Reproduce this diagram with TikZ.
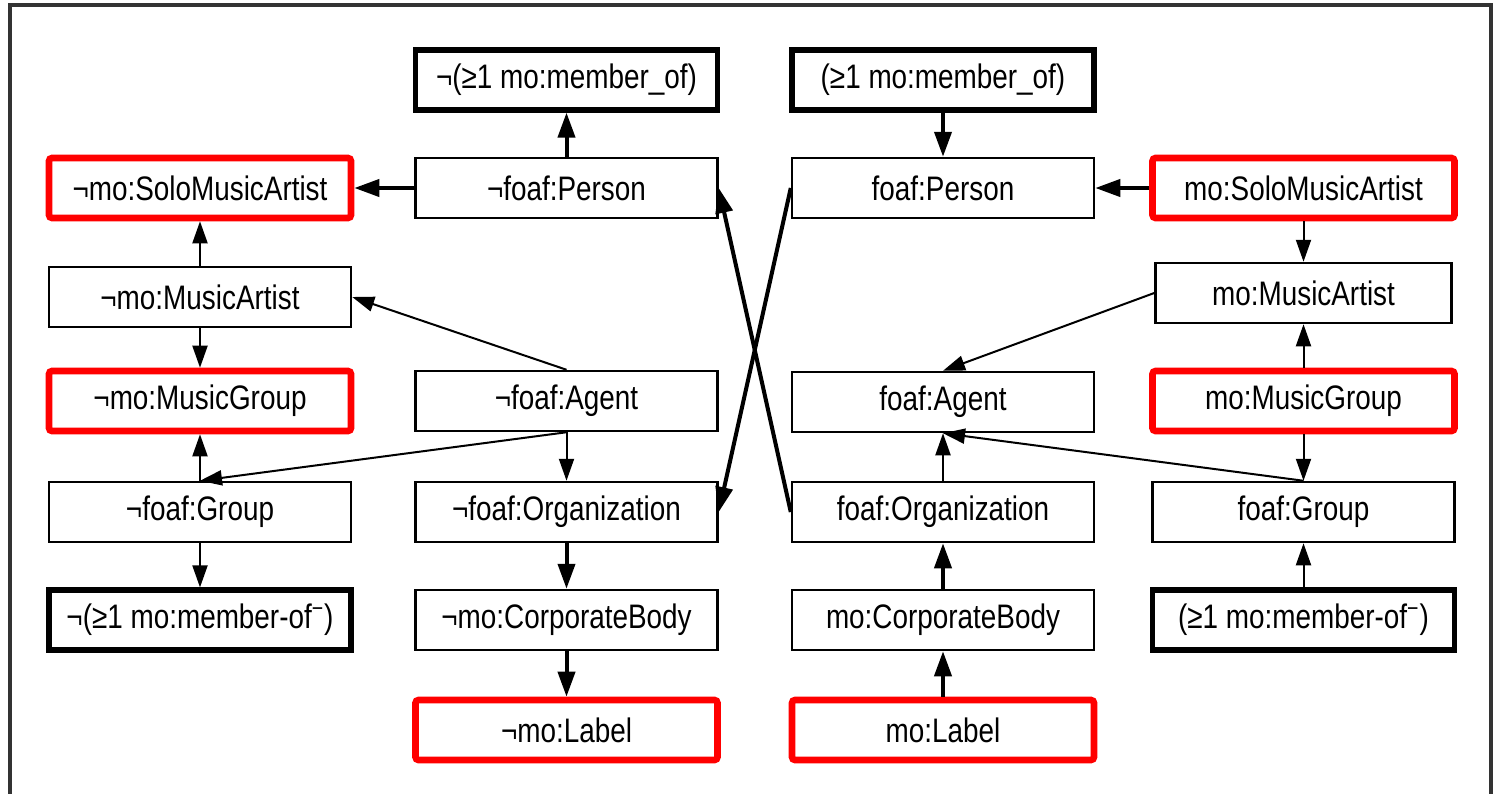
\documentclass[tikz,border=0pt]{standalone}
\usepackage{fontspec}
\setmainfont[FakeStretch=0.82]{Liberation Sans}
\usetikzlibrary{arrows.meta}
\begin{document}
\begin{tikzpicture}[x=0.5pt,y=-0.5pt,
  box/.style={draw=black, line width=1.25pt, minimum width=151pt, minimum height=30pt, inner sep=0pt, font=\fontsize{17}{19}\selectfont},
  redbox/.style={box, draw=red, line width=3.3pt, rounded corners=1.5pt},
  thickbox/.style={box, line width=2.6pt},
  arr/.style={line width=1pt, -{Triangle[length=11pt,width=7.5pt]}},
  harr/.style={line width=2pt, -{Triangle[length=12.5pt,width=8.5pt]}},
]
\useasboundingbox (0,0) rectangle (1494,793);
\draw[line width=1.8pt, draw=black!80] (10,810) -- (10,5) -- (1491,5) -- (1491,810);

% column A
\node[redbox] (nsolo) at (200,188) {¬mo:SoloMusicArtist};
\node[box] (nartist) at (200,297) {¬mo:MusicArtist};
\node[redbox] (ngroupm) at (200,401) {¬mo:MusicGroup};
\node[box] (ngroup) at (200,512) {¬foaf:Group};
\node[thickbox] (nmemi) at (200,620) {¬(≥1 mo:member-of\textsuperscript{\char"2212})};
% column B
\node[thickbox] (nmem) at (566.5,80) {¬(≥1 mo:member\_of)};
\node[box] (nperson) at (566.5,188) {¬foaf:Person};
\node[box] (nagent) at (566.5,401) {¬foaf:Agent};
\node[box] (norg) at (566.5,512) {¬foaf:Organization};
\node[box] (ncorp) at (566.5,620) {¬mo:CorporateBody};
\node[redbox] (nlabel) at (566.5,730) {¬mo:Label};
% column C
\node[thickbox] (pmem) at (943,80) {(≥1 mo:member\_of)};
\node[box] (pperson) at (943,188) {foaf:Person};
\node[box] (pagent) at (943,402) {foaf:Agent};
\node[box] (porg) at (943,512) {foaf:Organization};
\node[box] (pcorp) at (943,620) {mo:CorporateBody};
\node[redbox] (plabel) at (943,730) {mo:Label};
% column D
\node[redbox] (psolo) at (1303.5,188) {mo:SoloMusicArtist};
\node[box, minimum width=148pt] (partist) at (1303.5,293) {mo:MusicArtist};
\node[redbox] (pgroupm) at (1303.5,401) {mo:MusicGroup};
\node[box] (pgroup) at (1303.5,512) {foaf:Group};
\node[thickbox] (pmemi) at (1303.5,620) {(≥1 mo:member-of\textsuperscript{\char"2212})};

% edges
\draw[harr] (nperson.north) -- (nmem.south);
\draw[harr] (nperson.west) -- (nsolo.east);
\draw[harr] (pmem.south) -- (pperson.north);
\draw[harr] (psolo.west) -- (pperson.east);
\draw[arr] (psolo.south) -- (partist.north);
\draw[arr] (nartist.north) -- (nsolo.south);
\draw[arr] (nartist.south) -- (ngroupm.north);
\draw[arr] (ngroup.north) -- (ngroupm.south);
\draw[arr] (nagent.north) -- (nartist.east);
\draw[arr] (nagent.south) -- (ngroup.north);
\draw[arr] (nagent.south) -- (norg.north);
\draw[arr] (ngroup.south) -- (nmemi.north);
\draw[harr] (norg.south) -- (ncorp.north);
\draw[harr] (ncorp.south) -- (nlabel.north);
\draw[arr] (partist.west) -- (pagent.north);
\draw[arr] (pgroupm.north) -- (partist.south);
\draw[arr] (pgroupm.south) -- (pgroup.north);
\draw[arr] (pgroup.north) -- (pagent.south);
\draw[arr] (porg.north) -- (pagent.south);
\draw[harr] (pcorp.north) -- (porg.south);
\draw[harr] (plabel.north) -- (pcorp.south);
\draw[arr] (pmemi.north) -- (pgroup.south);
\draw[harr] (pperson.west) -- (norg.east);
\draw[harr] (porg.west) -- (nperson.east);
\end{tikzpicture}
\end{document}
